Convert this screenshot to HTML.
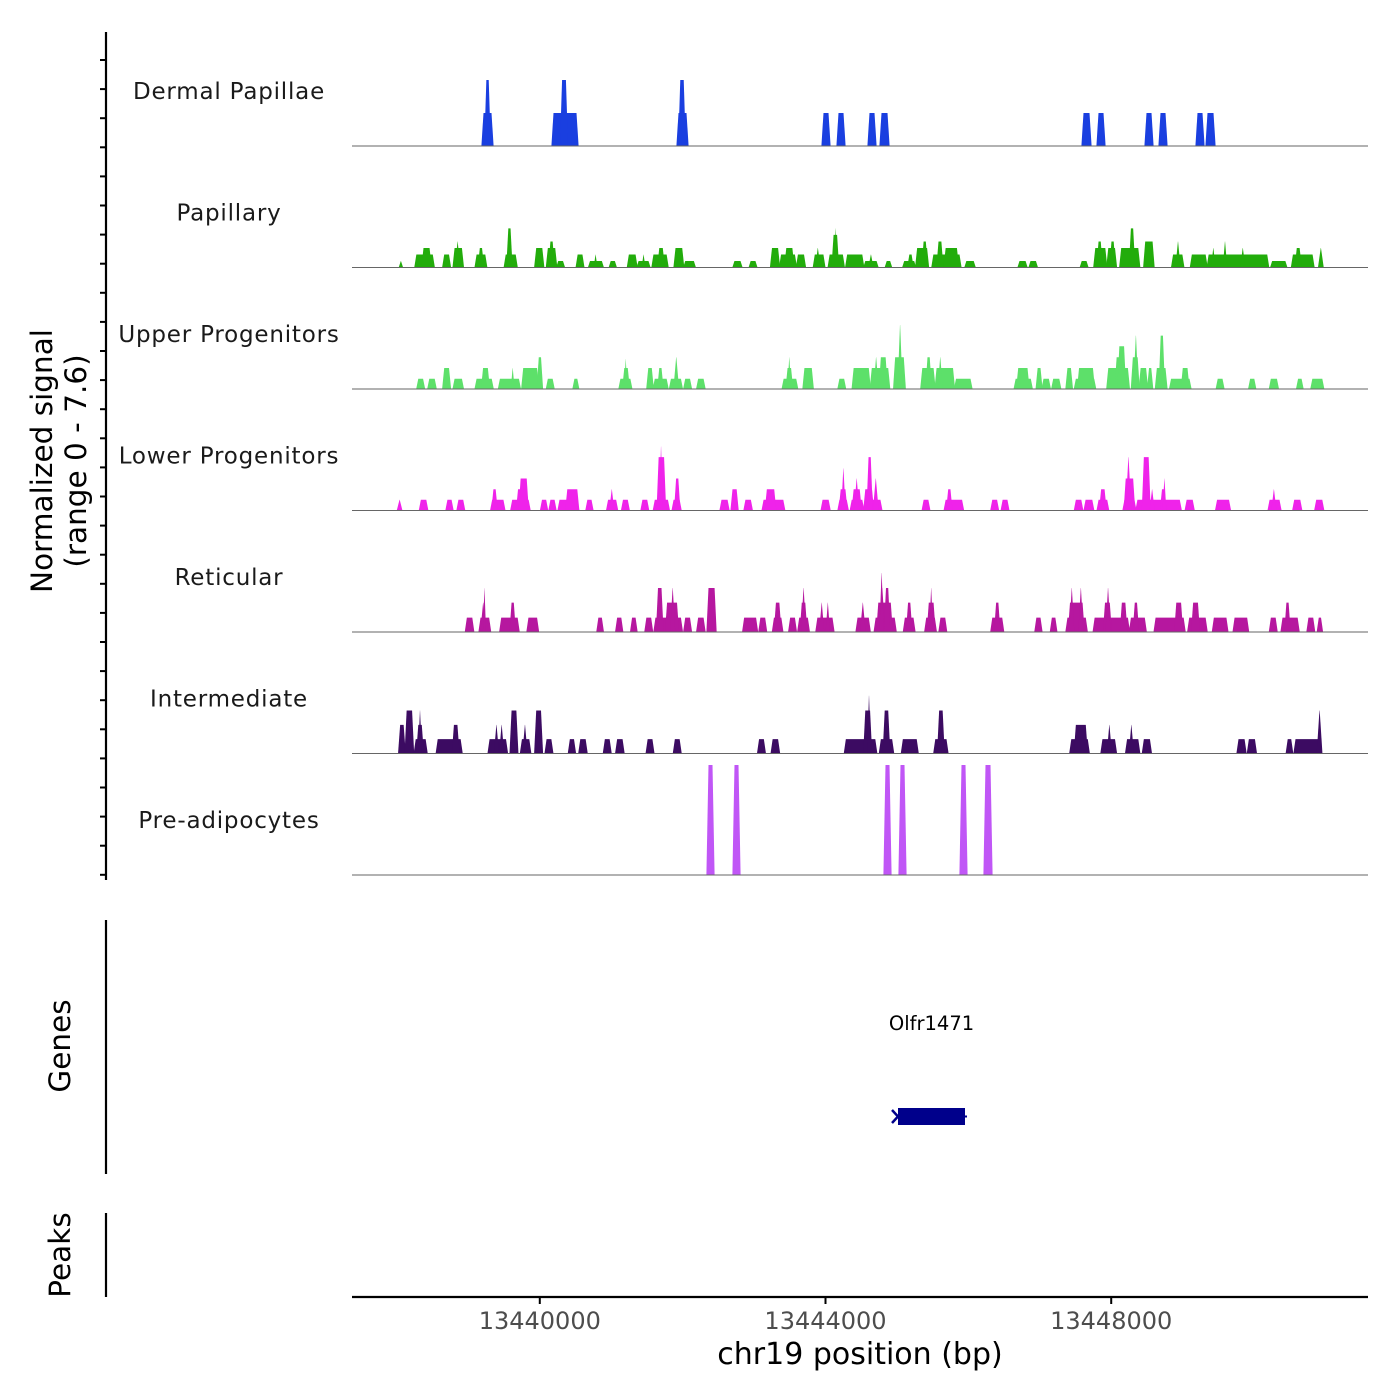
<!DOCTYPE html>
<html><head><meta charset="utf-8">
<style>
html,body{margin:0;padding:0;background:#fff;}
svg{display:block;font-family:"DejaVu Sans","Liberation Sans",sans-serif;}
</style></head>
<body>
<svg id="chart" width="1400" height="1400" viewBox="0 0 1400 1400" xmlns="http://www.w3.org/2000/svg">
  <rect x="0" y="0" width="1400" height="1400" fill="#fff"/>
  <g id="tracks"></g>
  <line x1="106" y1="32" x2="106" y2="880" stroke="#000" stroke-width="2.2"/>
  <g id="yticks"></g>
  <text transform="translate(52,461) rotate(-90)" text-anchor="middle" font-size="29.5" fill="#000">Normalized signal</text>
  <text transform="translate(86,461) rotate(-90)" text-anchor="middle" font-size="29.5" fill="#000">(range 0 - 7.6)</text>
  <line x1="106" y1="920" x2="106" y2="1174" stroke="#000" stroke-width="2.2"/>
  <text transform="translate(70,1046) rotate(-90)" text-anchor="middle" font-size="29.5" fill="#000">Genes</text>
  <g id="genes"></g>
  <line x1="106" y1="1213" x2="106" y2="1297" stroke="#000" stroke-width="2.2"/>
  <text transform="translate(70,1255) rotate(-90)" text-anchor="middle" font-size="29.5" fill="#000">Peaks</text>
  <line x1="352" y1="1297" x2="1368" y2="1297" stroke="#000" stroke-width="2.2"/>
  <g id="xticks"></g>
  <text x="860" y="1364" text-anchor="middle" font-size="30" fill="#000">chr19 position (bp)</text>
</svg>
<script>
const regionStart = 13437371;
const regionEnd = 13451595;
const xTickValues = [13440000, 13444000, 13448000];
const xTickLabels = ["13440000", "13444000", "13448000"];
const trackNames = ["Dermal Papillae","Papillary","Upper Progenitors","Lower Progenitors","Reticular","Intermediate","Pre-adipocytes"];
const trackColors = ["#1a3fe0","#22ac0b","#5de06a","#ef23ea","#b6179f","#3c0b62","#c056f6"];
const yMax = 7.6;
// segments: [startOffsetBp, endOffsetBp, value] relative to regionStart
const dermalPapillae = [[1820,1974,2.28],[1860,1935,4.56],[2800,3164,2.28],[2920,3016,4.56],[4550,4704,2.28],[4575,4665,4.56],[6580,6692,2.28],[6790,6902,2.28],[7224,7336,2.28],[7392,7518,2.28],[10220,10346,2.28],[10430,10542,2.28],[11102,11214,2.28],[11298,11410,2.28],[11816,11928,2.28],[11956,12082,2.28]];
const papillary = [[662,707,0.45],[880,1152,0.9],[980,1107,1.35],[1270,1379,0.9],[1415,1560,1.35],[1451,1506,1.8],[1723,1887,0.9],[1769,1841,1.35],[2131,2313,0.9],[2168,2240,2.7],[2558,2685,1.35],[2721,2866,1.35],[2757,2830,1.8],[2866,2975,0.45],[3138,3247,0.9],[3311,3519,0.45],[3392,3428,0.9],[3601,3701,0.45],[3855,3991,0.9],[3991,4172,0.45],[4063,4100,0.9],[4199,4426,0.9],[4281,4372,1.35],[4508,4644,1.35],[4644,4807,0.45],[5333,5460,0.45],[5560,5669,0.45],[5859,5986,1.35],[5986,6222,0.9],[6059,6186,1.35],[6222,6349,0.9],[6458,6621,0.9],[6494,6549,1.35],[6666,6893,0.9],[6721,6812,2.25],[6757,6784,2.7],[6911,7165,0.9],[7165,7365,0.45],[7238,7292,0.9],[7465,7555,0.45],[7710,7891,0.45],[7782,7855,0.9],[7891,8072,1.35],[7982,8054,1.8],[8118,8526,0.9],[8190,8272,1.8],[8290,8490,1.35],[8580,8725,0.45],[9324,9451,0.45],[9478,9596,0.45],[10195,10304,0.45],[10385,10567,1.35],[10431,10503,1.8],[10567,10703,1.35],[10612,10684,1.8],[10748,11029,1.35],[10884,10957,2.7],[11084,11229,1.8],[11474,11646,0.9],[11537,11591,1.8],[11737,11972,0.9],[11972,12834,0.9],[12036,12081,1.35],[12199,12245,1.8],[12444,12498,1.35],[12861,13088,0.45],[13152,13469,0.9],[13206,13288,1.35],[13532,13596,1.35]];
const upperProgenitors = [[907,1016,0.71],[1061,1179,0.71],[1270,1379,1.45],[1415,1560,0.71],[1723,1977,0.71],[1814,1923,1.45],[2050,2358,0.71],[2231,2268,1.45],[2376,2612,1.45],[2594,2667,2.19],[2721,2830,0.71],[3093,3175,0.71],[3737,3918,0.71],[3791,3882,1.45],[3818,3846,2.07],[4127,4218,1.45],[4218,4426,0.71],[4281,4354,1.45],[4444,4626,0.71],[4508,4571,2.19],[4644,4753,0.71],[4825,4943,0.71],[6022,6240,0.71],[6077,6168,1.45],[6104,6140,2.19],[6313,6458,1.45],[6803,6911,0.71],[7002,7256,1.45],[7256,7528,1.45],[7310,7365,2.19],[7383,7492,2.19],[7583,7746,2.19],[7646,7700,4.42],[7963,8163,1.45],[8036,8109,2.19],[8163,8435,1.45],[8208,8263,2.19],[8435,8680,0.71],[9270,9524,0.71],[9306,9478,1.45],[9578,9660,1.45],[9660,9777,0.71],[9796,9923,0.71],[9995,10086,1.45],[10113,10412,0.71],[10158,10394,1.45],[10567,10884,1.45],[10684,10811,2.19],[10722,10830,2.95],[10911,11020,2.19],[10947,11002,3.69],[11020,11138,1.45],[11138,11210,1.45],[11247,11410,1.45],[11301,11374,3.69],[11446,11746,0.71],[11610,11718,1.45],[12099,12208,0.71],[12553,12653,0.71],[12843,12970,0.71],[13224,13315,0.71],[13424,13605,0.71]];
const lowerProgenitors = [[635,698,0.74],[943,1061,0.74],[1315,1415,0.74],[1469,1578,0.74],[1941,2141,0.74],[1959,2032,1.47],[2222,2494,0.74],[2304,2376,1.47],[2340,2467,2.21],[2639,2739,0.74],[2757,2857,0.74],[2884,3175,0.74],[2993,3175,1.47],[3274,3374,0.74],[3564,3719,0.74],[3610,3664,1.47],[3773,3882,0.74],[4045,4154,0.74],[4218,4444,0.74],[4272,4390,3.69],[4308,4345,4.42],[4481,4608,0.74],[4517,4589,2.21],[5152,5279,0.74],[5306,5406,1.47],[5487,5605,0.74],[5741,6059,0.74],[5787,5932,1.47],[6567,6694,0.74],[6803,6948,0.74],[6821,6929,1.47],[6857,6902,2.92],[6975,7165,0.74],[7002,7129,1.47],[7038,7093,2.21],[7165,7419,0.74],[7165,7301,1.47],[7211,7283,3.69],[7301,7365,2.21],[7982,8090,0.74],[8290,8562,0.74],[8326,8399,1.47],[8943,9052,0.74],[9088,9197,0.74],[10113,10231,0.74],[10249,10385,0.74],[10431,10594,0.74],[10467,10557,1.47],[10793,10975,0.74],[10811,10957,2.21],[10839,10902,3.69],[10975,11610,0.74],[11065,11174,3.69],[11174,11229,1.47],[11319,11392,1.47],[11356,11392,2.21],[11664,11791,0.74],[12090,12299,0.74],[12825,13006,0.74],[12879,12934,1.47],[13170,13297,0.74],[13478,13605,0.74]];
const reticular = [[1587,1705,0.99],[1778,1941,0.99],[1805,1868,2.03],[1841,1868,3.04],[2068,2340,0.99],[2213,2286,2.03],[2449,2612,0.99],[3428,3519,0.99],[3691,3791,0.99],[3900,3991,0.99],[4100,4209,0.99],[4227,4626,0.99],[4263,4354,3.04],[4390,4571,2.03],[4462,4517,3.04],[4644,4753,0.99],[4825,4943,0.99],[4970,5097,3.04],[5469,5678,0.99],[5696,5805,0.99],[5886,6032,0.99],[5914,6004,2.03],[6113,6222,0.99],[6240,6403,0.99],[6276,6367,2.03],[6295,6349,3.04],[6494,6748,0.99],[6549,6603,2.03],[6639,6684,2.03],[7056,7256,0.99],[7120,7183,2.03],[7310,7619,0.99],[7347,7564,2.03],[7392,7455,3.04],[7392,7437,4.08],[7455,7528,3.04],[7719,7882,0.99],[7764,7837,2.03],[8018,8181,0.99],[8054,8163,2.03],[8090,8127,3.04],[8217,8326,0.99],[8943,9124,0.99],[8997,9070,2.03],[9560,9660,0.99],[9777,9868,0.99],[9995,10294,0.99],[10031,10249,2.03],[10050,10104,3.04],[10177,10231,3.04],[10376,10884,0.99],[10521,10630,2.03],[10557,10612,3.04],[10757,10848,2.03],[10884,11120,0.99],[10938,11011,2.03],[11229,11664,0.99],[11519,11628,2.03],[11700,11972,0.99],[11755,11864,2.03],[12045,12263,0.99],[12335,12553,0.99],[12843,12952,0.99],[13006,13260,0.99],[13061,13133,2.03],[13369,13478,0.99],[13514,13587,0.99]];
const intermediate = [[653,744,1.98],[744,862,2.97],[871,1052,0.99],[907,998,1.98],[934,970,2.97],[1179,1542,0.99],[1406,1497,1.98],[1905,2177,0.99],[1995,2050,1.98],[2068,2122,1.98],[2213,2322,2.97],[2358,2503,0.99],[2394,2449,1.98],[2558,2667,2.97],[2703,2812,0.99],[3029,3129,0.99],[3175,3292,0.99],[3519,3628,0.99],[3691,3809,0.99],[4118,4227,0.99],[4499,4608,0.99],[5678,5787,0.99],[5868,5986,0.99],[6893,7347,0.99],[7165,7274,2.97],[7220,7256,4.0],[7383,7583,0.99],[7437,7528,2.97],[7691,7927,0.99],[8145,8344,0.99],[8199,8290,2.97],[10049,10322,0.99],[10113,10294,1.98],[10485,10703,0.99],[10576,10630,1.98],[10830,11029,0.99],[10884,10938,1.98],[11065,11192,0.99],[12390,12517,0.99],[12535,12662,0.99],[13079,13170,0.99],[13188,13569,0.99],[13514,13578,2.97]];
const preAdipocytes = [[4970,5068,7.6],[5334,5432,7.6],[7448,7546,7.6],[7658,7756,7.6],[8512,8610,7.6],[8848,8960,7.6]];
const geneNames = ["Olfr1471"];
const geneStarts = [13445015];
const geneEnds = [13445953];

const allTracks = [dermalPapillae, papillary, upperProgenitors, lowerProgenitors, reticular, intermediate, preAdipocytes];
const NS = "http://www.w3.org/2000/svg";
const plotLeft = 352, plotRight = 1368;
const firstBase = 146, trackStep = 121.5, yPxMax = 110;
function xScale(bp){ return plotLeft + (bp - regionStart) / (regionEnd - regionStart) * (plotRight - plotLeft); }
function yScale(v, base){ return base - v / yMax * yPxMax; }
function mk(tag, attrs){ const e = document.createElementNS(NS, tag); for (const k in attrs) e.setAttribute(k, attrs[k]); return e; }

const tracksG = document.getElementById('tracks');
allTracks.forEach((segs, ti) => {
  const base = firstBase + ti * trackStep;
  const g = mk('g', {});
  
  
  segs.forEach((s) => {
    const x1 = xScale(regionStart + s[0]), x2 = xScale(regionStart + s[1]);
    const yt = yScale(s[2], base);
    const w = x2 - x1;
    const sl = w < 5 ? w / 2.1 : Math.min(1.5, w / 3.5);
    const p = mk('polygon', {points: `${x1-0.6},${base} ${x1+sl},${yt} ${x2-sl},${yt} ${x2+0.6},${base}`, fill: trackColors[ti]});
    
    
    g.appendChild(p);
  });
  const bl = mk('line', {x1: plotLeft, x2: plotRight, y1: base, y2: base, stroke: '#666', 'stroke-width': 1});
  
  
  g.appendChild(bl);
  const lab = mk('text', {x: 229, y: base - 47, 'text-anchor': 'middle', 'font-size': 23, fill: '#1a1a1a', 'letter-spacing': '0.8'});
  lab.textContent = trackNames[ti];
  
  
  g.appendChild(lab);
  tracksG.appendChild(g);
});

const yt = document.getElementById('yticks');
for (let i = 0; i < 29; i++) {
  const y = 60 + i * 29.1;
  const t = mk('line', {x1: 100, x2: 106, y1: y, y2: y, stroke: '#000', 'stroke-width': 2});
  
  
  yt.appendChild(t);
}

const xt = document.getElementById('xticks');
xTickValues.forEach((v, i) => {
  const x = xScale(v);
  const t = mk('line', {x1: x, x2: x, y1: 1297, y2: 1304, stroke: '#000', 'stroke-width': 2});
  
  
  xt.appendChild(t);
  const l = mk('text', {x: x, y: 1329, 'text-anchor': 'middle', 'font-size': 24, fill: '#4d4d4d'});
  l.textContent = xTickLabels[i];
  
  
  xt.appendChild(l);
});

const gg = document.getElementById('genes');
geneNames.forEach((name, i) => {
  const x1 = xScale(geneStarts[i]), x2 = xScale(geneEnds[i]);
  const body = mk('rect', {x: x1, y: 1108, width: x2 - x1, height: 17, fill: '#00008b'});
  
  
  gg.appendChild(body);
  const arrow = mk('path', {d: `M${x1-6},${1110} L${x1},${1116.5} L${x1-6},${1123}`, stroke: '#00008b', 'stroke-width': 2.5, fill: 'none'});
  
  
  gg.appendChild(arrow);
  const tail = mk('line', {x1: x2, x2: x2 + 2, y1: 1116.5, y2: 1116.5, stroke: '#00008b', 'stroke-width': 2});
  
  
  gg.appendChild(tail);
  const lab = mk('text', {x: (x1 + x2) / 2, y: 1030, 'text-anchor': 'middle', 'font-size': 19.5, fill: '#000'});
  lab.textContent = name;
  
  
  gg.appendChild(lab);
});
</script>
</body></html>
